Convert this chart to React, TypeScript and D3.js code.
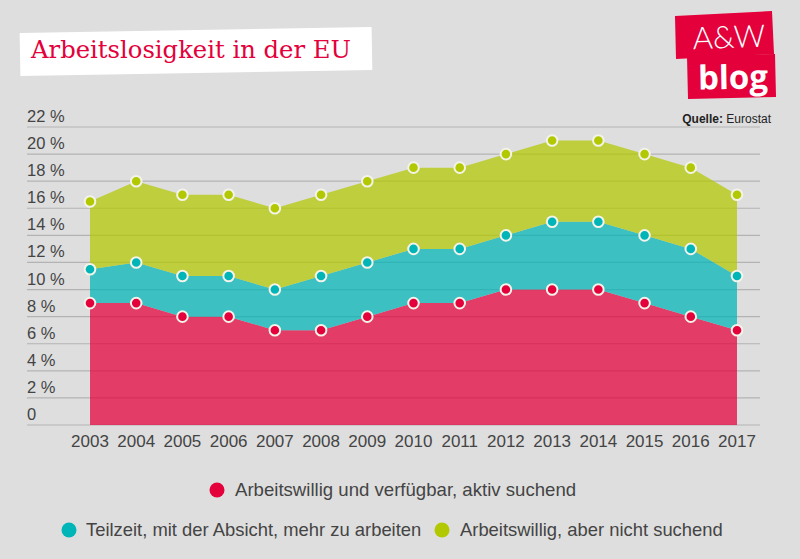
import React from "react";
import * as d3 from "d3";

const years = ["2003","2004","2005","2006","2007","2008","2009","2010","2011","2012","2013","2014","2015","2016","2017"];
// component values (stacked in chart)
const aktivSuchend = [9, 9, 8, 8, 7, 7, 8, 9, 9, 10, 10, 10, 9, 8, 7];
const teilzeit = [2.5, 3, 3, 3, 3, 4, 4, 4, 4, 4, 5, 5, 5, 5, 4];
const nichtSuchend = [5, 6, 6, 6, 6, 6, 6, 6, 6, 6, 6, 6, 6, 6, 6];
const yTicks = [0, 2, 4, 6, 8, 10, 12, 14, 16, 18, 20, 22];
const seriesNames = [
  "Arbeitswillig und verfügbar, aktiv suchend",
  "Teilzeit, mit der Absicht, mehr zu arbeiten",
  "Arbeitswillig, aber nicht suchend",
];
const colors = ["#e4003b", "#00b5b8", "#b2c800"];

const FONT = "'Liberation Sans Narrow', 'Liberation Sans', sans-serif";

export default function App() {
  const W = 800, H = 559;
  const x = d3.scalePoint<string>().domain(years).range([90, 737]);
  const y = d3.scaleLinear().domain([0, 22]).range([425, 127]);

  const rows = years.map((yr, i) => ({ year: yr, a: aktivSuchend[i], b: teilzeit[i], c: nichtSuchend[i] }));
  const stacked = d3.stack<any>().keys(["a", "b", "c"])(rows);
  const area = d3.area<any>()
    .x((d) => x(d.data.year)!)
    .y0((d) => y(d[0]))
    .y1((d) => y(d[1]));

  return (
    <svg width={W} height={H} style={{ display: "block", position: "absolute", left: 0, top: 0 }}>
      <rect width={W} height={H} fill="#dedede" />
      {/* title */}
      <g transform="rotate(-1 196 52)">
        <rect x={20} y={30} width={352} height={43} fill="#ffffff" />
      </g>
      <text x={31} y={58} fontFamily="'DejaVu Serif', serif" fontSize={23.5} fill="#e4003b" textLength={320} lengthAdjust="spacingAndGlyphs">Arbeitslosigkeit in der EU</text>

      {/* logo */}
      <polygon points="675,16 772,11 774,54 676,59" fill="#e4003b" />
      <polygon points="687,56 775,54 776,97 688,99" fill="#e4003b" />
      <text x={729} y={48} textAnchor="middle" fill="#fff" fontFamily="'Lato', 'Open Sans', sans-serif" fontWeight={300} fontSize={31} transform="rotate(-2 729 40)">A&amp;W</text>
      <text x={733} y={89} textAnchor="middle" fill="#fff" fontFamily="'Open Sans', sans-serif" fontWeight={700} fontSize={33} transform="rotate(-1 733 80)">blog</text>

      <text x={771} y={123} textAnchor="end" fontFamily={FONT} fontSize={12} fill="#222">
        <tspan fontWeight={700}>Quelle:</tspan> Eurostat
      </text>

      {/* grid */}
      {yTicks.map((t) => (
        <g key={t}>
          <line x1={27} x2={760} y1={y(t)} y2={y(t)} stroke="#b3b3b3" strokeWidth={1.2} />
          <text x={27} y={y(t) - 5} fontFamily={FONT} fontSize={16.5} fill="#444">{t === 0 ? "0" : `${t} %`}</text>
        </g>
      ))}

      {/* areas */}
      {stacked.map((s, i) => (
        <path key={i} d={area(s as any)!} fill={colors[i]} fillOpacity={0.73} />
      ))}

      {/* points */}
      {stacked.map((s, i) =>
        s.map((d: any, j: number) => (
          <circle key={`${i}-${j}`} cx={x(d.data.year)!} cy={y(d[1])} r={5.3} fill={colors[i]} stroke="#f3f3ea" strokeWidth={2} />
        ))
      )}

      {/* x labels */}
      {years.map((yr) => (
        <text key={yr} x={x(yr)!} y={447} textAnchor="middle" fontFamily={FONT} fontSize={17} fill="#444">{yr}</text>
      ))}

      {/* legend */}
      <circle cx={217} cy={490} r={7.5} fill={colors[0]} />
      <text x={235} y={496} fontFamily={FONT} fontSize={18.6} fill="#444">{seriesNames[0]}</text>
      <circle cx={69} cy={530} r={7.5} fill={colors[1]} />
      <text x={86} y={536} fontFamily={FONT} fontSize={18.4} fill="#444">{seriesNames[1]}</text>
      <circle cx={442} cy={530} r={7.5} fill={colors[2]} />
      <text x={460} y={536} fontFamily={FONT} fontSize={18.4} fill="#444">{seriesNames[2]}</text>
    </svg>
  );
}
